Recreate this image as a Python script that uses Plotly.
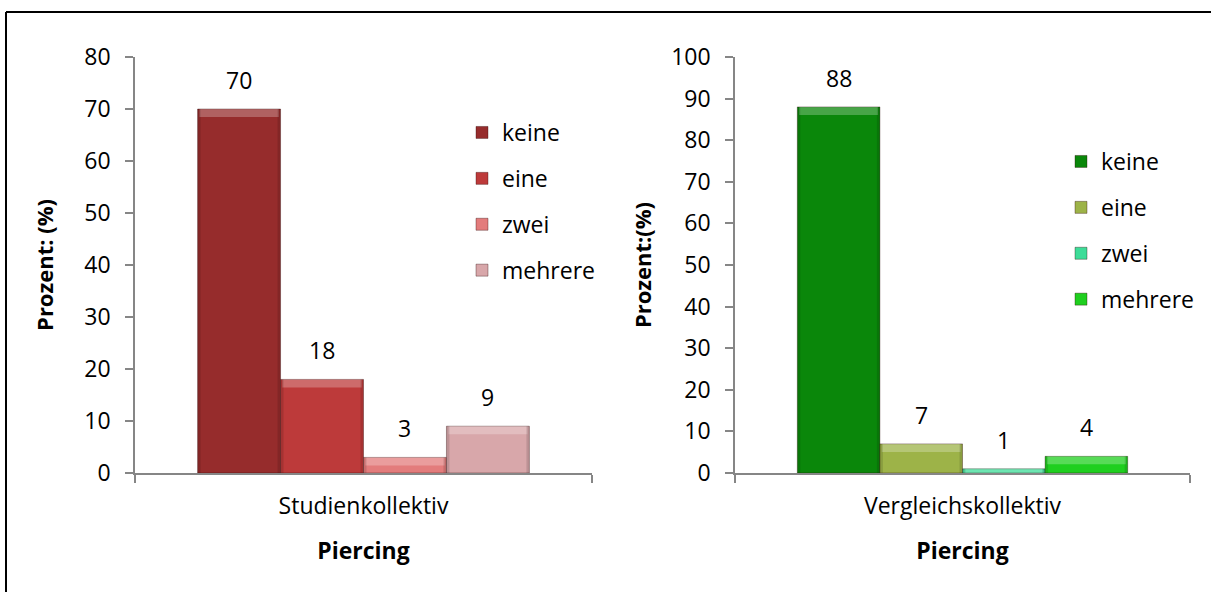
import plotly.graph_objects as go

# Piercing frequency (%) per group
levels = ["keine", "eine", "zwei", "mehrere"]
studien_values = [70, 18, 3, 9]
vergleich_values = [88, 7, 1, 4]
studien_label = "Studienkollektiv"
vergleich_label = "Vergleichskollektiv"

studien_colors = ["#962c2c", "#bd3a3a", "#e37c7c", "#d8a7aa"]
vergleich_colors = ["#0a870a", "#9db348", "#3ddc98", "#1fcf1f"]

W, H = 1211, 592
FONT = "Open Sans"
FS = 23
BARGAP = 0.274


def px_x(p):
    return p / W


def px_y(p):
    return 1 - p / H


fig = go.Figure()

panels = [
    dict(cat=studien_label, vals=studien_values, cols=studien_colors,
         xa="x", ya="y", legend="legend"),
    dict(cat=vergleich_label, vals=vergleich_values, cols=vergleich_colors,
         xa="x2", ya="y2", legend="legend2"),
]

for p in panels:
    for i, (lvl, v, c) in enumerate(zip(levels, p["vals"], p["cols"])):
        fig.add_trace(go.Bar(
            x=[p["cat"]], y=[v], name=lvl,
            xaxis=p["xa"], yaxis=p["ya"], legend=p["legend"],
            legendgroup=p["legend"] + lvl,
            marker=dict(color=c, line=dict(color="rgba(40,0,0,0.35)", width=1)),
            hoverinfo="skip",
        ))
        # value label above each bar
        bw = (1 - BARGAP) / len(levels)
        xc = -(1 - BARGAP) / 2 + bw * (i + 0.5)
        x0, x1 = xc - bw / 2, xc + bw / 2
        fig.add_annotation(
            x=xc, y=v, xref=p["xa"], yref=p["ya"], text=str(v),
            showarrow=False, yanchor="bottom", yshift=11,
            font=dict(family=FONT, size=FS, color="#000"),
        )
        # bevel: light band along the top, darker strips along the sides
        fig.add_shape(
            type="rect", xref=p["xa"], yref=p["ya"],
            x0=x0 + 0.004, x1=x1 - 0.004,
            ysizemode="pixel", yanchor=v, y0=-min(8, v * 4), y1=0,
            fillcolor="rgba(255,255,255,0.25)", line=dict(width=0),
            layer="above",
        )
        for xe, sign in ((x0, 1), (x1, -1)):
            fig.add_shape(
                type="rect", xref=p["xa"], yref=p["ya"],
                xsizemode="pixel", xanchor=xe, x0=0, x1=sign * 3,
                y0=0, y1=v,
                fillcolor="rgba(0,0,0,0.12)", line=dict(width=0),
                layer="above",
            )

common_x = dict(
    type="category", showline=True, linecolor="#868686", linewidth=1.5,
    ticks="outside", ticklen=8, tickcolor="#868686", tickwidth=1.5,
    tickson="boundaries", showgrid=False, zeroline=False, automargin=False,
    tickfont=dict(family=FONT, size=FS, color="#000"),
    ticklabelstandoff=12,
    title=dict(text="<b>Piercing</b>", font=dict(family=FONT, size=FS, color="#000"),
               standoff=23),
)
common_y = dict(
    showline=True, linecolor="#868686", linewidth=1.5,
    ticks="outside", ticklen=8, tickcolor="#868686", tickwidth=1.5,
    showgrid=False, zeroline=False, dtick=10, automargin=False,
    tickfont=dict(family=FONT, size=FS, color="#000"),
    ticklabelstandoff=10,
)

y_dom = [px_y(473), px_y(57)]

fig.update_layout(
    width=W, height=H,
    margin=dict(l=0, r=0, t=0, b=0, autoexpand=False),
    paper_bgcolor="white", plot_bgcolor="white",
    barmode="group", bargap=BARGAP, bargroupgap=0,
    xaxis=dict(common_x, domain=[px_x(135), px_x(592)], anchor="y"),
    xaxis2=dict(common_x, domain=[px_x(735), px_x(1190)], anchor="y2"),
    yaxis=dict(common_y, domain=y_dom, range=[0, 80], anchor="x",
               title=dict(text="<b>Prozent: (%)</b>",
                          font=dict(family=FONT, size=22, color="#000"), standoff=25)),
    yaxis2=dict(common_y, domain=y_dom, range=[0, 100], anchor="x2",
                title=dict(text="<b>Prozent:(%)</b>",
                           font=dict(family=FONT, size=22, color="#000"), standoff=13)),
    legend=dict(x=px_x(462), y=px_y(111), xanchor="left", yanchor="top",
                font=dict(family=FONT, size=FS, color="#000"),
                tracegroupgap=13, itemwidth=30, bgcolor="rgba(0,0,0,0)"),
    legend2=dict(x=px_x(1061), y=px_y(140), xanchor="left", yanchor="top",
                 font=dict(family=FONT, size=FS, color="#000"),
                 tracegroupgap=13, itemwidth=30, bgcolor="rgba(0,0,0,0)"),
    showlegend=True,
)

# frame lines along the top and left edge
fig.add_shape(type="line", xref="paper", yref="paper",
              x0=px_x(6), x1=1.01, y0=px_y(12), y1=px_y(12),
              line=dict(color="#000", width=2))
fig.add_shape(type="line", xref="paper", yref="paper",
              x0=px_x(6), x1=px_x(6), y0=px_y(12), y1=-0.01,
              line=dict(color="#000", width=2))

fig.write_html("out.html")
